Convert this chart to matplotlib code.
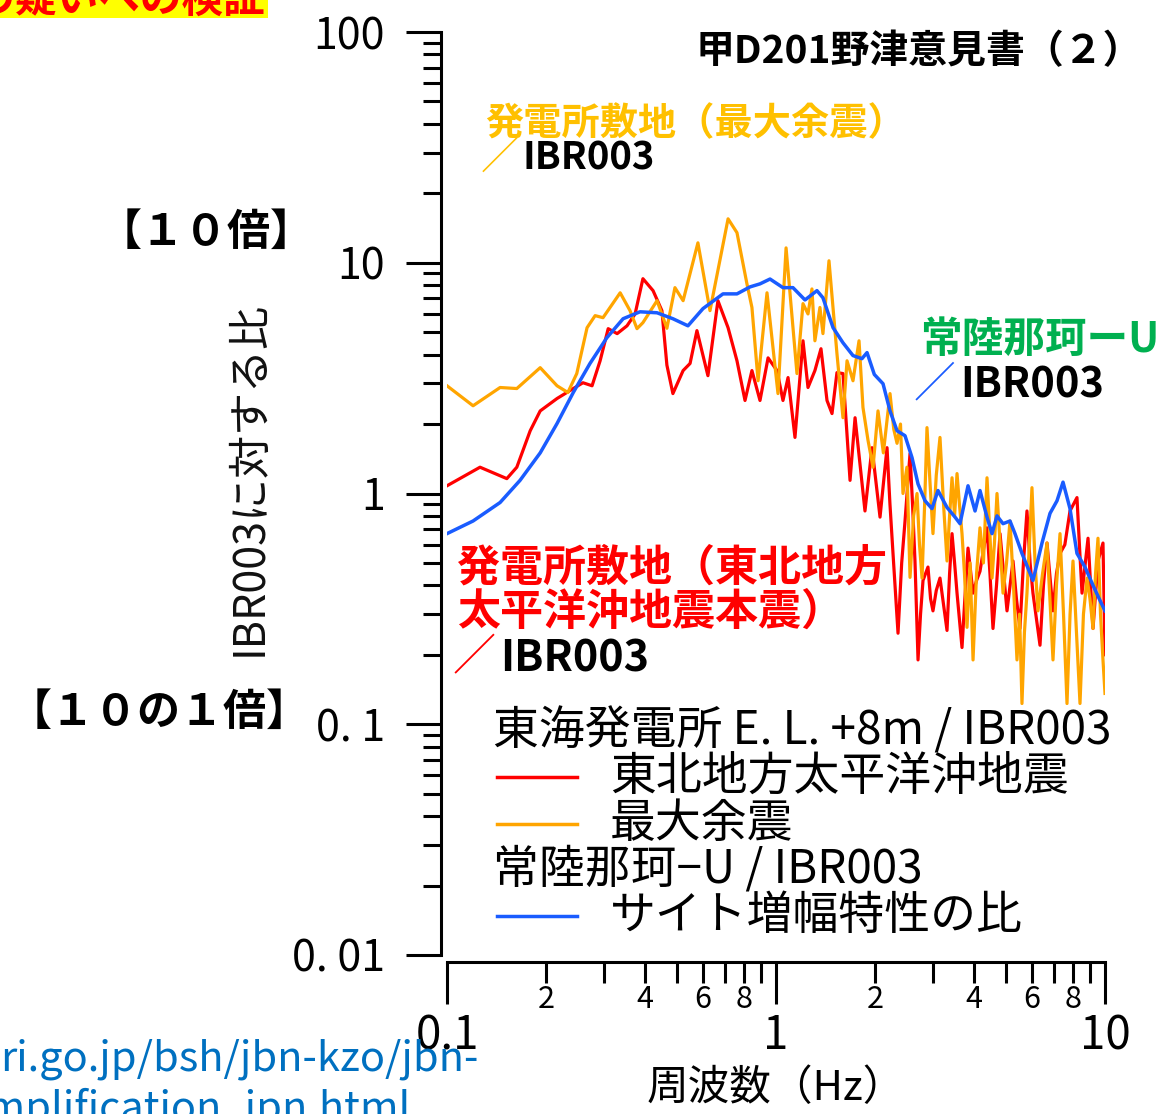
import matplotlib
matplotlib.use("Agg")
import matplotlib.pyplot as plt
from matplotlib.patches import Rectangle
from matplotlib.lines import Line2D

plt.rcParams['font.family'] = ['Noto Sans CJK JP', 'DejaVu Sans']

# 東北地方太平洋沖地震 (main shock) / IBR003
main_f = [0.100, 0.126, 0.152, 0.163, 0.179, 0.192, 0.216, 0.242, 0.259, 0.276,
          0.292, 0.309, 0.329, 0.3525, 0.373, 0.394, 0.423, 0.450, 0.466, 0.486,
          0.522, 0.548, 0.575, 0.621, 0.666, 0.715, 0.761, 0.805, 0.845, 0.894,
          0.946, 1.007, 1.050, 1.088, 1.142, 1.208, 1.251, 1.313, 1.370, 1.429,
          1.480, 1.532, 1.598, 1.679, 1.739, 1.864, 1.958, 2.071, 2.12, 2.175,
          2.22, 2.268, 2.349, 2.41, 2.467, 2.555, 2.60, 2.645, 2.702, 2.75,
          2.798, 2.897, 2.95, 3.000, 3.07, 3.151, 3.23, 3.310, 3.37, 3.428,
          3.49, 3.550, 3.676, 3.75, 3.834, 3.971, 4.07, 4.169, 4.379, 4.47,
          4.566, 4.68, 4.797, 4.92, 5.037, 5.253, 5.38, 5.515, 5.65, 5.792,
          5.92, 6.040, 6.345, 6.50, 6.664, 6.949, 7.12, 7.299, 7.55, 7.827,
          8.219, 8.36, 8.514, 8.880, 9.195, 9.521, 9.860, 10.0]
main_r = [1.08, 1.30, 1.16, 1.30, 1.87, 2.28, 2.58, 2.85, 3.02, 2.93,
          3.76, 5.18, 4.93, 5.33, 6.0, 8.53, 7.57, 6.2, 3.6, 2.71,
          3.41, 3.66, 5.08, 3.24, 6.85, 5.23, 3.76, 2.53, 3.41, 2.53,
          3.87, 3.41, 2.53, 3.18, 1.75, 4.59, 2.88, 3.41, 4.24, 2.53,
          2.22, 3.34, 3.31, 1.14, 2.13, 0.84, 1.58, 0.79, 1.1, 1.58,
          0.9, 0.55, 0.248, 0.5, 0.76, 1.49, 0.9, 0.51, 0.19, 0.3,
          0.42, 0.48, 0.35, 0.31, 0.38, 0.43, 0.33, 0.255, 0.45, 0.67,
          0.5, 0.37, 0.215, 0.35, 0.58, 0.37, 0.42, 0.46, 0.71, 0.45,
          0.26, 0.4, 0.67, 0.45, 0.31, 0.51, 0.35, 0.26, 0.5, 0.84,
          0.5, 0.37, 0.22, 0.4, 0.61, 0.31, 0.45, 0.55, 0.6, 0.84,
          0.96, 0.6, 0.37, 0.64, 0.26, 0.51, 0.61, 0.20]

# 最大余震 (largest aftershock) / IBR003
after_f = [0.100, 0.120, 0.145, 0.163, 0.192, 0.216, 0.233, 0.248, 0.2665, 0.282,
           0.298, 0.336, 0.360, 0.378, 0.394, 0.435, 0.466, 0.493, 0.522, 0.579,
           0.630, 0.715, 0.761, 0.816, 0.845, 0.882, 0.939, 1.014, 1.073, 1.158,
           1.208, 1.251, 1.286, 1.313, 1.360, 1.389, 1.449, 1.532, 1.598, 1.644,
           1.714, 1.788, 1.838, 1.904, 1.972, 2.042, 2.12, 2.221, 2.28, 2.333,
           2.39, 2.432, 2.50, 2.555, 2.62, 2.683, 2.73, 2.779, 2.83, 2.877,
           2.94, 3.000, 3.07, 3.151, 3.23, 3.310, 3.37, 3.428, 3.49, 3.550,
           3.61, 3.676, 3.74, 3.807, 3.89, 3.971, 4.07, 4.169, 4.27, 4.379,
           4.46, 4.535, 4.61, 4.696, 4.80, 4.898, 5.02, 5.143, 5.27, 5.401,
           5.50, 5.593, 5.69, 5.792, 5.89, 5.998, 6.13, 6.255, 6.46, 6.664,
           6.80, 6.949, 7.12, 7.299, 7.48, 7.665, 7.83, 7.994, 8.19, 8.395,
           8.60, 8.817, 9.00, 9.195, 9.36, 9.521, 9.69, 9.860, 10.0]
after_r = [2.93, 2.40, 2.88, 2.85, 3.51, 2.93, 2.74, 3.31, 5.23, 5.90,
           5.78, 7.41, 6.2, 5.18, 5.5, 6.85, 5.2, 7.8, 6.85, 12.2,
           6.2, 15.5, 13.5, 8.1, 6.4, 3.08, 7.41, 2.71, 11.6, 3.31,
           6.65, 6.0, 7.7, 4.59, 6.4, 4.93, 10.2, 4.04, 2.13, 3.76,
           3.08, 4.59, 2.36, 1.70, 1.30, 2.28, 1.5, 2.71, 1.9, 1.65,
           2.0, 1.0, 1.3, 0.433, 0.8, 1.0, 0.6, 0.43, 0.9, 1.93,
           1.1, 0.67, 1.2, 1.75, 0.9, 0.51, 0.8, 1.17, 0.8, 1.22,
           0.9, 0.67, 0.45, 0.263, 0.5, 0.19, 0.45, 0.71, 0.5, 1.17,
           0.7, 0.43, 0.6, 1.0, 0.6, 0.37, 0.5, 0.76, 0.4, 0.19,
           0.3, 0.123, 0.25, 0.37, 0.6, 1.06, 0.5, 0.31, 0.45, 0.61,
           0.35, 0.19, 0.4, 0.67, 0.3, 0.123, 0.3, 0.51, 0.25, 0.123,
           0.3, 0.43, 0.35, 0.26, 0.45, 0.64, 0.3, 0.19, 0.136]

# サイト増幅特性の比 (常陸那珂-U / IBR003)
site_f = [0.100, 0.120, 0.145, 0.1667, 0.192, 0.216, 0.242, 0.272, 0.306, 0.343,
          0.386, 0.435, 0.486, 0.540, 0.600, 0.690, 0.761, 0.834, 0.894, 0.959,
          1.050, 1.126, 1.225, 1.332, 1.389, 1.491, 1.598, 1.714, 1.825, 1.891,
          1.99, 2.115, 2.221, 2.333, 2.467, 2.591, 2.702, 2.838, 2.979, 3.107,
          3.310, 3.501, 3.625, 3.834, 4.027, 4.169, 4.379, 4.535, 4.696, 4.898,
          5.143, 5.326, 5.593, 6.040, 6.434, 6.805, 7.147, 7.454, 7.827, 8.219,
          8.694, 9.195, 9.656, 10.0]
site_r = [0.67, 0.76, 0.914, 1.14, 1.50, 2.01, 2.74, 3.66, 4.73, 5.72,
          6.13, 6.07, 5.72, 5.33, 6.33, 7.33, 7.33, 7.86, 8.1, 8.5,
          7.8, 7.8, 6.9, 7.57, 7.05, 5.23, 4.5, 3.96, 3.84, 4.08,
          3.28, 2.99, 2.28, 1.87, 1.78, 1.43, 1.10, 0.93, 0.86, 1.03,
          0.87, 0.79, 0.74, 1.08, 0.84, 1.03, 0.79, 0.67, 0.80, 0.74,
          0.76, 0.67, 0.55, 0.42, 0.61, 0.82, 0.93, 1.12, 0.86, 0.55,
          0.48, 0.40, 0.344, 0.31]

y_ticks = [0.01, 0.1, 1, 10, 100]
y_labels = ['0. 01', '0. 1', '1', '10', '100']
x_ticks = [0.1, 1, 10]
x_labels = ['0.1', '1', '10']
x_minor = [0.2, 0.3, 0.4, 0.5, 0.6, 0.7, 0.8, 0.9, 2, 3, 4, 5, 6, 7, 8, 9]
x_minor_labels = ['2', '', '4', '', '6', '', '8', '', '2', '', '4', '', '6', '', '8', '']

legend_rows = ['東海発電所 E. L. +8m / IBR003', '東北地方太平洋沖地震', '最大余震',
               '常陸那珂−U / IBR003', 'サイト増幅特性の比']

W, H = 1165, 1114
RED, ORANGE, BLUE = '#ff0000', '#ffa500', '#1a5cff'


def fx(px):
    return px / W


def fy(py):
    return 1 - py / H


fig = plt.figure(figsize=(W / 100, H / 100), dpi=100)
ax = fig.add_axes([fx(447), fy(955), 658 / W, 923 / H])

ax.plot(main_f, main_r, color=RED, lw=2.3)
ax.plot(after_f, after_r, color=ORANGE, lw=2.3)
ax.plot(site_f, site_r, color=BLUE, lw=2.5)

ax.set_xscale('log')
ax.set_yscale('log')
ax.set_xlim(0.1, 10)
ax.set_ylim(0.01, 100)

for s in ['top', 'right']:
    ax.spines[s].set_visible(False)
ax.spines['left'].set_position(('outward', 4.5))
ax.spines['bottom'].set_position(('outward', 5))
ax.spines['left'].set_linewidth(2.2)
ax.spines['bottom'].set_linewidth(2.2)

ax.set_yticks(y_ticks)
ax.set_yticklabels(y_labels)
ax.yaxis.set_minor_locator(matplotlib.ticker.LogLocator(base=10, subs=range(2, 10)))
ax.yaxis.set_minor_formatter(matplotlib.ticker.NullFormatter())
ax.tick_params(axis='y', which='major', length=25, width=2.2, pad=15, labelsize=31)
ax.tick_params(axis='y', which='minor', length=13, width=2.2)

ax.set_xticks(x_ticks)
ax.set_xticklabels(x_labels)
ax.set_xticks(x_minor, minor=True)
ax.set_xticklabels(x_minor_labels, minor=True)
ax.tick_params(axis='x', which='major', length=30, width=2.2, pad=6, labelsize=33)
ax.tick_params(axis='x', which='minor', length=15, width=2.2, pad=1, labelsize=22)

fig.text(fx(250), fy(479), 'IBR003に対する比', rotation=90, ha='center', va='center',
         fontsize=31, color='#111111')
fig.text(fx(776), fy(1088), '周波数（Hz）', ha='center', va='center', fontsize=30)

# top-left banner (cut off)
fig.patches.append(Rectangle((0, fy(18)), fx(268), 18 / H, transform=fig.transFigure,
                             facecolor='#ffff00', edgecolor='none', zorder=0))
fig.text(fx(265), fy(13), '増幅の疑いへの検証', ha='right', va='baseline', fontsize=30,
         fontweight='bold', color='#ff0000')

fig.text(fx(1142), fy(52), '甲D201野津意見書（２）', ha='right', va='center',
         fontsize=28, fontweight='bold')

fig.text(fx(485), fy(124), '発電所敷地（最大余震）', ha='left', va='center',
         fontsize=27.5, fontweight='bold', color='#ffc000')
fig.text(fx(481), fy(158), '／', ha='left', va='center', fontsize=27.5, color='#ffc000')
fig.text(fx(522), fy(158), 'IBR003', ha='left', va='center', fontsize=27.5, fontweight='bold')

fig.text(fx(314), fy(232), '【１０倍】', ha='right', va='center', fontsize=31, fontweight='bold')
fig.text(fx(310), fy(712), '【１０の１倍】', ha='right', va='center', fontsize=31,
         fontweight='bold')

fig.text(fx(920), fy(340), '常陸那珂ーU', ha='left', va='center', fontsize=30,
         fontweight='bold', color='#00b050')
fig.text(fx(914), fy(385), '／', ha='left', va='center', fontsize=30, color='#1a5cff')
fig.text(fx(960), fy(385), 'IBR003', ha='left', va='center', fontsize=30, fontweight='bold')

fig.text(fx(457), fy(568), '発電所敷地（東北地方', ha='left', va='center', fontsize=31,
         fontweight='bold', color='#ff0000')
fig.text(fx(457), fy(612), '太平洋沖地震本震）', ha='left', va='center', fontsize=31,
         fontweight='bold', color='#ff0000')
fig.text(fx(453), fy(658), '／', ha='left', va='center', fontsize=31, color='#ff0000')
fig.text(fx(500), fy(658), 'IBR003', ha='left', va='center', fontsize=31, fontweight='bold')

# legend box drawn by hand
fig.patches.append(Rectangle((fx(490), fy(942)), 627 / W, 237 / H, transform=fig.transFigure,
                             facecolor='white', edgecolor='none', zorder=5))
row_y = [731, 777, 824, 869, 916]
row_x = [493, 610, 610, 493, 610]
handles = [None, RED, ORANGE, None, BLUE]
for txt, yy, xx, col in zip(legend_rows, row_y, row_x, handles):
    fig.text(fx(xx), fy(yy), txt, ha='left', va='center', fontsize=33, zorder=6)
    if col:
        fig.lines.append(Line2D([fx(497), fx(577)], [fy(yy), fy(yy)], transform=fig.transFigure,
                                color=col, lw=2.5, zorder=6))

# url fragment at the bottom left (cut off)
fig.text(fx(0), fy(1070), 'ri.go.jp/bsh/jbn-kzo/jbn-', ha='left', va='baseline',
         fontsize=30, color='#0070c0')
fig.text(fx(-36), fy(1120), 'amplification_jpn.html', ha='left', va='baseline',
         fontsize=30, color='#0070c0')

fig.savefig('out.png', dpi=100)
